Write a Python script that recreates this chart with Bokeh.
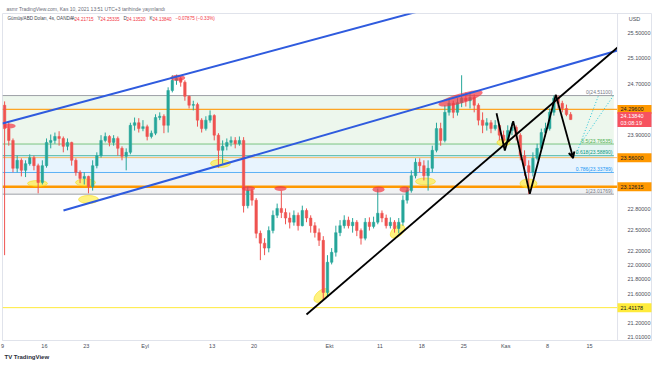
import numpy as np
from bokeh.plotting import figure
from bokeh.models import (FixedTicker, NumeralTickFormatter, Span, Label, Arrow,
                          VeeHead, Range1d, ColumnDataSource, Title)
from bokeh.embed import file_html
from bokeh.resources import INLINE
from bokeh.core.properties import value

# ---------------- data (XAG/USD, half-day candles) -------------
opens = [24.36, 24.00, 23.82, 23.40, 23.52, 23.37, 23.47, 23.56, 23.44, 23.19,
         23.44, 23.79, 23.82, 23.88, 23.85, 23.73, 23.79, 23.52, 23.34, 23.25,
         23.28, 23.13, 23.44, 23.59, 23.82, 23.88, 23.79, 23.85, 23.70, 23.58,
         23.64, 24.05, 24.09, 24.00, 24.03, 23.88, 23.93, 24.17, 24.19, 24.05,
         24.59, 24.75, 24.78, 24.72, 24.50, 24.36, 24.37, 24.13, 24.00, 24.13,
         24.20, 23.90, 23.67, 23.73, 23.79, 23.82, 23.77, 23.82, 22.85, 23.07,
         22.93, 22.45, 22.31, 22.24, 22.49, 22.71, 22.81, 22.75, 22.67, 22.61,
         22.71, 22.56, 22.78, 22.67, 22.56, 22.46, 22.35, 21.62, 22.04, 22.18,
         22.46, 22.56, 22.64, 22.56, 22.61, 22.49, 22.38, 22.61, 22.55, 22.61,
         22.74, 22.67, 22.56, 22.61, 22.52, 22.61, 22.93, 23.07, 23.29, 23.49,
         23.44, 23.29, 23.40, 23.67, 24.00, 23.82, 24.25, 24.39, 24.25, 24.40,
         24.47, 24.43, 24.48, 24.36, 24.13, 24.05, 24.09, 24.00, 24.05, 23.90,
         23.82, 23.97, 24.02, 23.90, 23.59, 23.44, 23.34, 23.55, 23.70, 23.94,
         24.00, 24.25, 24.47, 24.39, 24.31, 24.21715]
highs = [24.42, 24.09, 23.85, 23.59, 23.55, 23.52, 23.61, 23.59, 23.47, 23.52,
         23.85, 23.91, 23.94, 23.96, 23.88, 23.85, 23.80, 23.55, 23.37, 23.34,
         23.29, 23.52, 23.64, 23.90, 23.94, 23.90, 23.90, 23.88, 23.73, 23.70,
         24.09, 24.17, 24.16, 24.13, 24.06, 23.97, 24.22, 24.25, 24.22, 24.64,
         24.83, 24.84, 24.81, 24.75, 24.51, 24.43, 24.40, 24.16, 24.19, 24.28,
         24.22, 23.93, 23.82, 23.85, 23.88, 23.87, 23.88, 23.87, 23.13, 23.10,
         22.96, 22.49, 22.38, 22.55, 22.78, 22.88, 23.07, 22.81, 22.75, 22.78,
         22.75, 22.85, 22.81, 22.71, 22.61, 22.52, 22.41, 22.14, 22.24, 22.56,
         22.64, 22.71, 22.69, 22.67, 22.64, 22.52, 22.67, 22.68, 22.69, 23.10,
         22.78, 22.72, 22.68, 22.64, 22.67, 23.00, 23.12, 23.37, 23.55, 23.55,
         23.52, 23.52, 23.74, 24.09, 24.09, 24.36, 24.47, 24.43, 24.47, 24.83,
         24.56, 24.56, 24.53, 24.39, 24.25, 24.16, 24.13, 24.13, 24.06, 23.97,
         24.05, 24.09, 24.05, 23.93, 23.67, 23.52, 23.64, 23.77, 24.00, 24.09,
         24.31, 24.511, 24.51, 24.43, 24.37, 24.25335]
lows = [22.14, 23.74, 23.34, 23.34, 23.28, 23.27, 23.44, 23.37, 23.03, 23.16,
        23.41, 23.70, 23.77, 23.74, 23.64, 23.67, 23.44, 23.29, 23.18, 23.16,
        23.03, 23.07, 23.40, 23.56, 23.79, 23.73, 23.74, 23.59, 23.52, 23.37,
        23.61, 23.97, 23.94, 23.96, 23.82, 23.85, 23.90, 24.13, 23.93, 23.94,
        24.56, 24.68, 24.65, 24.43, 24.31, 24.28, 24.03, 23.94, 23.97, 24.09,
        23.82, 23.41, 23.47, 23.67, 23.73, 23.70, 23.74, 22.75, 22.81, 22.85,
        22.38, 22.07, 22.14, 22.18, 22.45, 22.67, 22.67, 22.58, 22.52, 22.56,
        22.49, 22.55, 22.61, 22.46, 22.39, 22.27, 21.51, 21.57, 22.01, 22.12,
        22.41, 22.52, 22.52, 22.46, 22.41, 22.29, 22.35, 22.49, 22.52, 22.58,
        22.61, 22.52, 22.52, 22.46, 22.45, 22.56, 22.88, 23.04, 23.25, 23.34,
        23.22, 23.07, 23.34, 23.64, 23.74, 23.79, 24.20, 24.16, 24.20, 24.33,
        24.34, 24.31, 24.25, 24.05, 23.93, 23.97, 23.93, 23.97, 23.82, 23.71,
        23.79, 23.90, 23.82, 23.52, 23.29, 23.018, 23.28, 23.52, 23.67, 23.88,
        23.97, 24.20, 24.31, 24.25, 24.19, 24.1352]
closes = [24.00, 23.82, 23.40, 23.52, 23.37, 23.47, 23.56, 23.44, 23.19, 23.44,
          23.79, 23.82, 23.88, 23.85, 23.73, 23.79, 23.52, 23.34, 23.25, 23.28,
          23.13, 23.44, 23.59, 23.82, 23.88, 23.79, 23.85, 23.70, 23.58, 23.64,
          24.05, 24.09, 24.00, 24.03, 23.88, 23.93, 24.17, 24.19, 24.05, 24.59,
          24.75, 24.78, 24.72, 24.50, 24.36, 24.37, 24.13, 24.00, 24.13, 24.20,
          23.90, 23.67, 23.73, 23.79, 23.82, 23.77, 23.82, 22.85, 23.07, 22.93,
          22.45, 22.31, 22.24, 22.49, 22.71, 22.81, 22.75, 22.67, 22.61, 22.71,
          22.56, 22.78, 22.67, 22.56, 22.46, 22.35, 21.62, 22.04, 22.18, 22.46,
          22.56, 22.64, 22.56, 22.61, 22.49, 22.38, 22.61, 22.55, 22.61, 22.74,
          22.67, 22.56, 22.61, 22.52, 22.61, 22.93, 23.07, 23.29, 23.49, 23.44,
          23.29, 23.40, 23.67, 24.00, 23.82, 24.25, 24.39, 24.25, 24.40, 24.47,
          24.43, 24.48, 24.36, 24.13, 24.05, 24.09, 24.00, 24.05, 23.90, 23.82,
          23.97, 24.02, 23.90, 23.59, 23.44, 23.34, 23.55, 23.70, 23.94, 24.00,
          24.25, 24.47, 24.39, 24.31, 24.21715, 24.1384]

# x axis: trading-day index (0 = 9 Aug 2021)
tick_days = [0, 5, 10, 17, 25, 30, 39, 45, 50, 55, 60, 65, 70]
tick_labels = ["9", "16", "23", "Eyl", "13", "20", "Ekt", "11", "18", "25", "Kas", "8", "15"]
price_ticks = [25.5, 25.1, 24.7, 23.9, 22.8, 22.5, 22.2, 22.0, 21.8, 21.6, 21.2, 21.01]

# horizontal levels
res_high = 24.296
res_mid = 23.56
res_low = 23.12615
support = 21.41178
last_price = 24.1384

# fibonacci retracement
fib_ratios = ["0", "0.5", "0.618", "0.786", "1"]
fib_levels = [24.511, 23.76535, 23.5889, 23.33789, 23.01769]
fib_colors = ["#787b86", "#4caf50", "#089981", "#2196f3", "#787b86"]
fib_band_colors = ["#4caf50", "#089981", "#2196f3", "#787b86"]

# drawings (day, price)
upper_ch_x, upper_ch_y = [0.0, 49.85], [24.077, 25.872]
lower_ch_x, lower_ch_y = [7.27, 73.34], [22.780, 25.225]
trend_x, trend_y = [36.25, 73.34], [21.319, 25.274]
zz_x = [58.91, 59.90, 60.90, 62.88, 65.98, 68.05]
zz_y = [24.237, 23.668, 24.114, 23.024, 24.523, 23.553]
dot1_x, dot1_y = [68.45, 71.07], [23.623, 24.512]
dot2_x, dot2_y = [68.93, 72.86], [23.773, 24.512]

red_ov_x = [0.85, 20.9, 29.33, 33.15, 44.84, 47.94, 54.62]
red_ov_y = [24.04, 24.79, 23.102, 23.102, 23.088, 23.088, 24.465]
red_ov_w = [12, 15, 13, 12, 12, 10, 46]
red_ov_h = [5, 6, 5, 5, 6, 6, 10]
red_ov_a = [0, 0, 0, 0, 0, 0, 0.28]

yel_ov_x = [4.17, 9.90, 10.26, 26.0, 38.04, 47.1, 50.44, 59.74, 62.72]
yel_ov_y = [23.175, 23.19, 22.94, 23.473, 21.578, 22.478, 23.205, 23.789, 23.175]
yel_ov_w = [20, 20, 20, 20, 18, 17, 20, 13, 17]
yel_ov_h = [6, 7, 8, 8, 10, 10, 7, 7, 9]
yel_ov_a = [0, 0, 0, 0, 0.7, 0.7, 0, 0, 0]

# ---------------- figure ----------------
FONT = "Liberation Sans"
CHART_END = 73.34      # where the price scale column starts
SCALE_TEXT_X = 73.70
SCALE_BOX_X = 75.36
FIB_END = 72.9

p = figure(width=654, height=366, y_axis_type="log", y_axis_location="right",
           x_range=Range1d(0, 77.39), y_range=Range1d(20.968, 25.827),
           output_backend="svg", toolbar_location=None,
           min_border_left=2, min_border_right=3, min_border_top=13, min_border_bottom=26)
p.background_fill_color = "white"
p.border_fill_color = "white"
p.outline_line_color = "#e0e3eb"
p.grid.grid_line_color = None

ya = p.yaxis[0]
ya.ticker = FixedTicker(ticks=price_ticks)
ya.formatter = NumeralTickFormatter(format="0.00000")
ya.major_tick_line_color = None
ya.minor_tick_line_color = None
ya.axis_line_color = None
ya.major_label_text_font_size = "5.5px"
ya.major_label_text_font = FONT
ya.major_label_text_color = "#4a4e59"
ya.major_label_standoff = -30

xa = p.xaxis[0]
xa.ticker = FixedTicker(ticks=tick_days)
xa.major_label_overrides = {d: l for d, l in zip(tick_days, tick_labels)}
xa.major_tick_line_color = None
xa.minor_tick_line_color = None
xa.major_tick_out = 0
xa.axis_line_color = "#e0e3eb"
xa.major_label_text_font_size = "5.5px"
xa.major_label_text_font = FONT
xa.major_label_text_color = "#4a4e59"
xa.major_label_standoff = 2

p.add_layout(Title(text="asmr TradingView.com, Kas 10, 2021 13:51 UTC+3 tarihinde yayınlandı",
                   text_font=FONT, text_font_size="5px", text_font_style="normal",
                   text_color="#6a6d78", align="left", offset=4, standoff=3), "above")
p.add_layout(Title(text="TV TradingView", text_font=FONT, text_font_size="6px",
                   text_font_style="bold", text_color="#2a2e39", align="left",
                   offset=2, standoff=0), "below")

# price-scale separator
p.add_layout(Span(location=CHART_END, dimension="height", line_color="#e0e3eb", line_width=1))

# fib bands & lines
for i in range(4):
    p.quad(left=[0], right=[FIB_END], top=[fib_levels[i]], bottom=[fib_levels[i + 1]],
           fill_color=fib_band_colors[i], fill_alpha=0.1, line_color=None)
for lev, col in zip(fib_levels, fib_colors):
    p.segment(x0=[0], y0=[lev], x1=[FIB_END], y1=[lev], line_color=col,
              line_width=1, line_alpha=0.7)

# horizontal levels
for lev, col, lw, la in [(res_high, "#ff9800", 1.3, 0.85), (res_mid, "#ff9800", 1, 0.6),
                         (res_low, "#ff9800", 2.6, 1.0), (support, "#ffeb3b", 1, 1.0)]:
    p.segment(x0=[0], y0=[lev], x1=[CHART_END], y1=[lev], line_color=col,
              line_width=lw, line_alpha=la)

# ovals behind candles
p.ellipse(x=yel_ov_x, y=yel_ov_y, width=yel_ov_w, height=yel_ov_h, angle=yel_ov_a,
          width_units="screen", height_units="screen",
          fill_color="#ffeb3b", fill_alpha=0.65, line_color="#f5d800", line_alpha=0.5)

# candles
o = np.array(opens); c = np.array(closes)
n = len(closes)
xs = np.arange(n) * 0.5 + 0.25
up = c >= o
cols = np.where(up, "#26a69a", "#ef5350")
src = ColumnDataSource(dict(x=xs, o=o, h=highs, l=lows, c=c,
                            top=np.maximum(o, c), bot=np.minimum(o, c), col=cols))
p.segment(x0="x", y0="h", x1="x", y1="l", line_color="col", line_width=1, source=src)
p.vbar(x="x", width=0.3, top="top", bottom="bot", fill_color="col", line_color="col",
       line_width=0.5, source=src)

p.ellipse(x=red_ov_x, y=red_ov_y, width=red_ov_w, height=red_ov_h, angle=red_ov_a,
          width_units="screen", height_units="screen",
          fill_color="#f23645", fill_alpha=0.7, line_color=None)

# channel and trend lines
p.line(upper_ch_x, upper_ch_y, line_color="#2f5bde", line_width=2)
p.line(lower_ch_x, lower_ch_y, line_color="#2f5bde", line_width=2)
p.line(trend_x, trend_y, line_color="black", line_width=1.8)
p.line(zz_x[:-1], zz_y[:-1], line_color="black", line_width=1.8)
p.add_layout(Arrow(end=VeeHead(size=6, line_color="black", line_width=1.6, fill_color=None),
                   x_start=zz_x[-2], y_start=zz_y[-2], x_end=zz_x[-1], y_end=zz_y[-1],
                   line_color="black", line_width=1.8))
p.line(dot1_x, dot1_y, line_color="#26c6da", line_width=1, line_dash="1 2")
p.line(dot2_x, dot2_y, line_color="#26c6da", line_width=1, line_dash="1 2")

# fib labels
for r, lev, col in zip(fib_ratios, fib_levels, fib_colors):
    p.add_layout(Label(x=72.74, y=lev, text=f"{r}({lev:.5f})", text_font=FONT,
                       text_font_size="5px", text_color=col, text_align="right",
                       text_baseline="bottom", y_offset=0.5))

# coloured price-scale labels
box_prices = [res_high, last_price, res_mid, res_low, support]
box_texts = ["24.29600", "24.13840\n03:08:19", "23.56000", "23.12615", "21.41178"]
box_bg = ["#ff9800", "#f7525f", "#ff9800", "#ff9800", "#ffeb3b"]
box_fg = ["#131722", "white", "#131722", "#131722", "#131722"]
box_h = [9, 15, 9, 9, 9]
rb = p.rect(x=[SCALE_BOX_X] * 5, y=box_prices, width=[34] * 5, height=box_h,
            width_units="screen", height_units="screen", fill_color=box_bg, line_color=None)
rb.level = "overlay"
tb = p.text(x=[SCALE_TEXT_X] * 5, y=box_prices, text=box_texts, text_color=box_fg,
            text_font=value(FONT), text_font_size="5.5px", text_align="left",
            text_baseline="middle", text_line_height=1.25)
tb.level = "overlay"

p.add_layout(Label(x=SCALE_BOX_X, y=25.729, text="USD", text_font=FONT, text_font_size="5.5px",
                   text_color="#4a4e59", text_align="center", text_baseline="middle"))

# legend line
FH = 327
legend_parts = [("Gümüş/ABD Doları, 4s, OANDA", 5, "#434651"), ("A", 69, "#434651"),
                ("24.21715", 72, "#f23645"), ("Y", 95, "#434651"), ("24.25335", 98, "#f23645"),
                ("D", 121, "#434651"), ("24.13520", 124, "#f23645"), ("K", 147, "#434651"),
                ("24.13840", 150, "#f23645"), ("\u22120.07875 (\u22120.33%)", 173, "#f23645")]
for t, xx, col in legend_parts:
    p.add_layout(Label(x=xx, y=FH - 5, x_units="screen", y_units="screen", text=t,
                       text_font=FONT, text_font_size="4.6px", text_color=col,
                       text_baseline="middle"))

open("out.html", "w").write(file_html(p, INLINE))
